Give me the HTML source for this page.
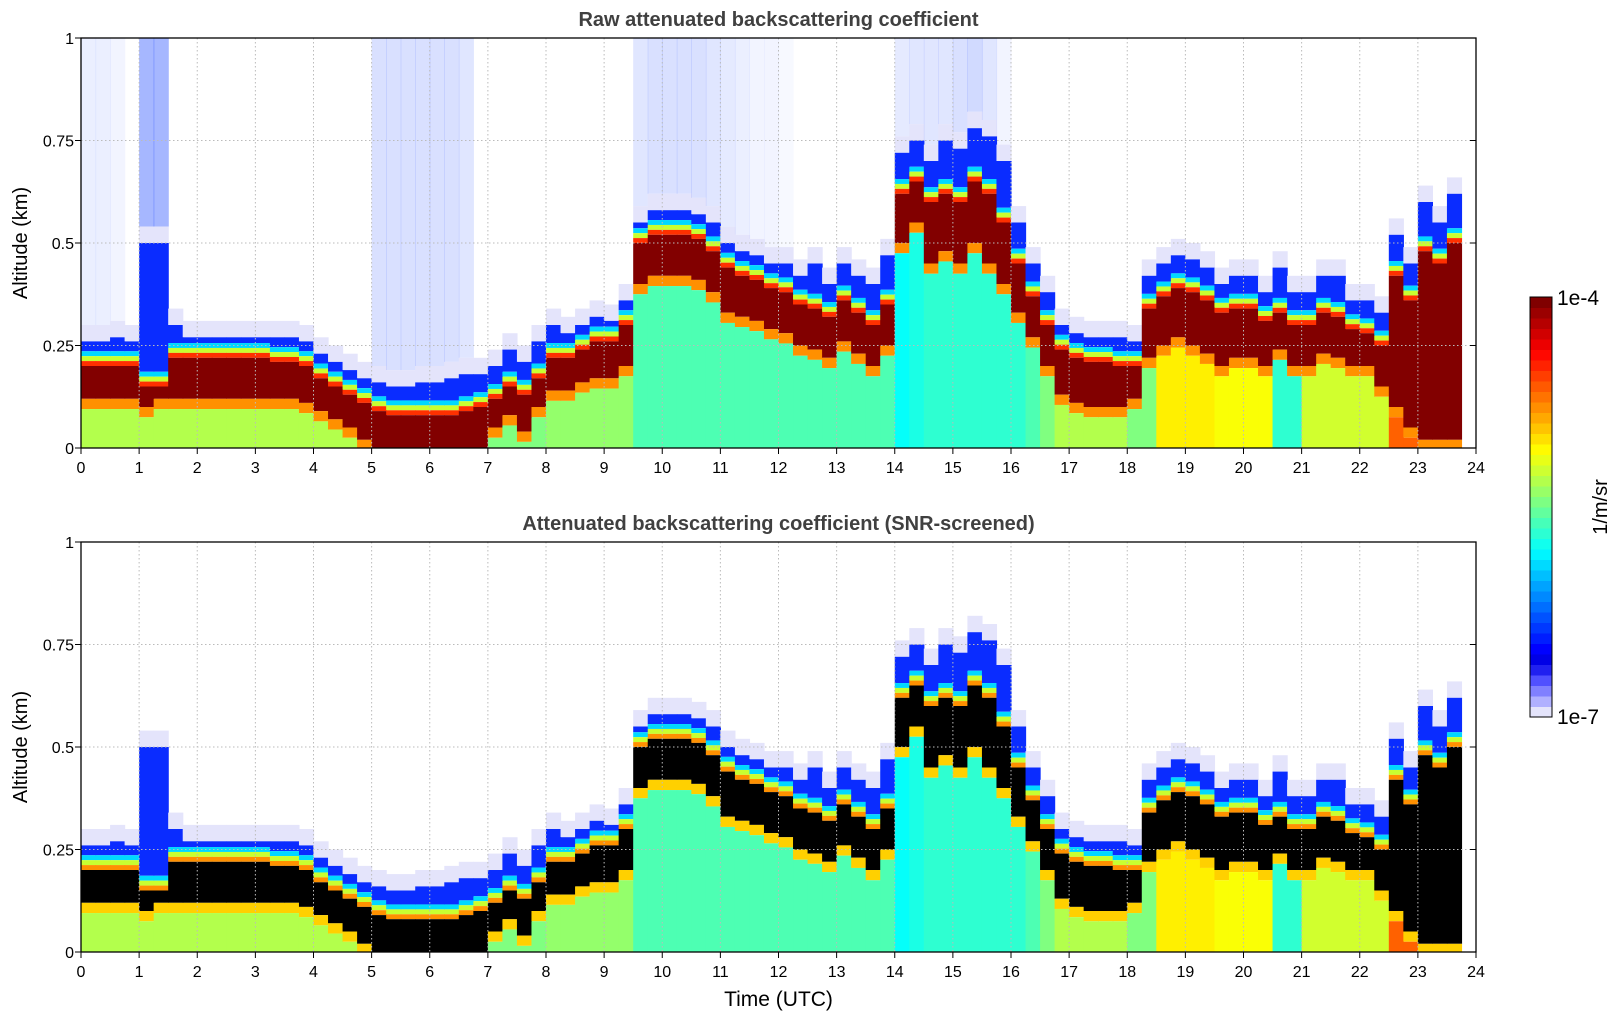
<!DOCTYPE html>
<html><head><meta charset="utf-8"><style>
html,body{margin:0;padding:0;background:#fff;}
svg{display:block;font-family:"Liberation Sans","DejaVu Sans",sans-serif;}
</style></head><body>
<svg id="chart" width="1621" height="1020" viewBox="0 0 1621 1020" xmlns="http://www.w3.org/2000/svg"></svg>
<script>
// column start times (hours), 0.25 h resolution
const times = [];
for (let i = 0; i < 96; i++) times.push(i * 0.25);
// top of aerosol layer (km)
const layerTop = [.26,.26,.27,.26, .50,.50,.30,.27, .27,.27,.27,.27, .27,.27,.27,.26, .23,.21,.19,.17, .16,.15,.15,.16, .16,.17,.18,.18, .20,.24,.21,.26, .30,.28,.30,.32, .31,.36,.55,.58, .58,.58,.57,.55, .50,.48,.47,.45, .45,.42,.45,.40, .45,.42,.40,.47, .72,.75,.70,.75, .73,.78,.76,.70, .55,.45,.38,.30, .28,.27,.27,.27, .26,.42,.45,.47, .46,.44,.40,.42, .42,.38,.44,.38, .38,.42,.42,.36, .36,.33,.52,.45, .60,.55,.62,0];
// top of strong (saturated) band (km)
const bandTop = [.20,.20,.20,.20, .15,.15,.22,.22, .22,.22,.22,.22, .22,.21,.21,.20, .17,.15,.13,.11, .09,.08,.08,.08, .08,.08,.09,.10, .12,.15,.13,.17, .22,.22,.24,.26, .26,.30,.50,.52, .52,.52,.51,.48, .44,.42,.41,.39, .38,.35,.34,.32, .36,.33,.30,.35, .62,.65,.60,.62, .60,.65,.62,.55, .45,.37,.30,.24, .22,.21,.21,.20, .20,.34,.37,.39, .38,.36,.33,.34, .34,.31,.33,.30, .30,.33,.32,.29, .28,.25,.42,.36, .48,.45,.50,0];
// bottom of strong band (km)
const bandBot = [.12,.12,.12,.12, .10,.12,.12,.12, .12,.12,.12,.12, .12,.12,.12,.11, .09,.07,.05,.02, 0,0,0,0, 0,0,0,0, .05,.08,.04,.10, .14,.14,.16,.17, .17,.20,.40,.42, .42,.42,.41,.38, .33,.32,.31,.29, .28,.25,.24,.22, .26,.23,.20,.25, .50,.55,.45,.48, .45,.50,.45,.40, .33,.27,.20,.13, .11,.10,.10,.10, .12,.22,.25,.27, .25,.23,.20,.22, .22,.20,.24,.20, .20,.23,.22,.20, .20,.15,.10,.05, .02,.02,.02,0];
// colour level (0..1 of colorbar) of the region below the band
const lowerVal = [.55,.55,.55,.55, .55,.55,.55,.55, .55,.55,.55,.55, .55,.55,.55,.55, .55,.55,.55,.55, .5,.5,.5,.5, .5,.5,.5,.5, .5,.5,.5,.5, .52,.52,.52,.52, .52,.52,.45,.45, .45,.45,.45,.45, .45,.45,.45,.45, .45,.45,.45,.45, .45,.45,.45,.45, .38,.40,.42,.42, .42,.42,.42,.42, .42,.45,.5,.55, .55,.55,.55,.55, .5,.5,.64,.64, .64,.64,.62,.62, .62,.62,.42,.42, .58,.58,.58,.58, .58,.58,.78,.78, .8,.8,.8,.8];
// density of noise speckle above layer (raw panel)
const noise = [.08,.08,.05,0, .35,.35,0,0, 0,0,0,0, 0,0,0,0, 0,0,0,0, .15,.15,.15,.15, .15,.15,.12,0, 0,0,0,0, 0,0,0,0, 0,0,.12,.15, .15,.15,.15,.12, .1,.08,.05,.05, .03,0,0,0, 0,0,0,0, .1,.12,.12,.12, .15,.18,.12,.05, 0,0,0,0, 0,0,0,0, 0,0,0,0, 0,0,0,0, 0,0,0,0, 0,0,0,0, 0,0,0,0, 0,0,0,0];
const xTicks = [0,1,2,3,4,5,6,7,8,9,10,11,12,13,14,15,16,17,18,19,20,21,22,23,24];
const yTicks = [0,0.25,0.5,0.75,1];
const yTickLabels = ["0","0.25","0.5","0.75","1"];

const NS = "http://www.w3.org/2000/svg";
const svg = document.getElementById('chart');
const X0 = 81, X1 = 1476, PH = 410;
function jet(v){
  v = Math.max(0, Math.min(1, v));
  const r = Math.max(0, Math.min(1, 1.5 - Math.abs(4*v - 3)));
  const g = Math.max(0, Math.min(1, 1.5 - Math.abs(4*v - 2)));
  const b = Math.max(0, Math.min(1, 1.5 - Math.abs(4*v - 1)));
  return `rgb(${Math.round(r*255)},${Math.round(g*255)},${Math.round(b*255)})`;
}
function el(tag, attrs, parent){
  const e = document.createElementNS(NS, tag);
  for (const k in attrs) e.setAttribute(k, attrs[k]);
  (parent || svg).appendChild(e);
  return e;
}
function xs(t){ return X0 + t * (X1 - X0) / 24; }

function panel(yBottom, title, screened, name){
  const g = el('g', {});
  
  
  const ys = v => yBottom - v * PH;
  const w = (X1 - X0) / 96 + 0.6;
  const rect = (t, a, b, fill, op) => {
    if (b <= a) return;
    const r = el('rect', {x: xs(t), y: ys(Math.min(b,1)), width: w, height: ys(a) - ys(Math.min(b,1)), fill: fill}, g);
    if (op !== undefined) r.setAttribute('fill-opacity', op);
    
    
  };
  for (let i = 0; i < times.length; i++){
    const t = times[i], top = layerTop[i], bt = bandTop[i], bb = bandBot[i];
    if (top <= 0) continue;
    if (!screened && noise[i] > 0) rect(t, top + 0.04, 1, '#0030ff', noise[i]);
    rect(t, top, top + 0.04, '#e4e4fb');
    rect(t, bt + 0.036, top, '#0a2cff');
    rect(t, bt + 0.024, Math.min(bt + 0.036, top), '#00d8ff');
    rect(t, bt + 0.012, Math.min(bt + 0.024, top), '#c8ff30');
    rect(t, bt, Math.min(bt + 0.012, top), screened ? '#ff9000' : '#ff3000');
    rect(t, bb, bt, screened ? '#000000' : '#820000');
    if (bb > 0){
      rect(t, Math.max(0, bb - 0.025), bb, screened ? '#ffd000' : '#ff9000');
      rect(t, 0, Math.max(0, bb - 0.025), jet(lowerVal[i]));
    }
  }
  // grid
  xTicks.forEach(t => {
    if (t > 0 && t < 24){
      const l = el('line', {x1: xs(t), x2: xs(t), y1: yBottom - PH, y2: yBottom, stroke: '#bbb', 'stroke-dasharray': '1.5,2.5', 'stroke-width': 1}, g);
      
      
    }
    const tk = el('line', {x1: xs(t), x2: xs(t), y1: yBottom, y2: yBottom + 6, stroke: '#000', 'stroke-width': 1}, g);
    
    
    const tx = el('text', {x: xs(t), y: yBottom + 25, 'text-anchor': 'middle', 'font-size': 16, fill: '#000'}, g);
    tx.textContent = t;
    
    
  });
  yTicks.forEach((v, k) => {
    if (v > 0 && v < 1){
      const l = el('line', {x1: X0, x2: X1, y1: ys(v), y2: ys(v), stroke: '#bbb', 'stroke-dasharray': '1.5,2.5', 'stroke-width': 1}, g);
      
      
    }
    const tk = el('line', {x1: X0 - 6, x2: X0, y1: ys(v), y2: ys(v), stroke: '#000'}, g);
    
    
    const tr = el('line', {x1: X1 - 6, x2: X1, y1: ys(v), y2: ys(v), stroke: '#000'}, g);
    
    
    const tx = el('text', {x: X0 - 7, y: ys(v) + 6, 'text-anchor': 'end', 'font-size': 16, fill: '#000'}, g);
    tx.textContent = yTickLabels[k];
    
    
  });
  const fr = el('rect', {x: X0, y: yBottom - PH, width: X1 - X0, height: PH, fill: 'none', stroke: '#000', 'stroke-width': 1.3}, g);
  
  
  const ti = el('text', {x: (X0 + X1) / 2, y: yBottom - PH - 12, 'text-anchor': 'middle', 'font-size': 20, 'font-weight': 'bold', fill: '#404040'}, g);
  ti.textContent = title;
  
  
  const yl = el('text', {x: 0, y: 0, 'text-anchor': 'middle', 'font-size': 20, fill: '#000', transform: `translate(27,${yBottom - PH/2}) rotate(-90)`}, g);
  yl.textContent = 'Altitude (km)';
  
  
}
panel(448, 'Raw attenuated backscattering coefficient', false, 'raw-panel');
panel(952, 'Attenuated backscattering coefficient (SNR-screened)', true, 'screened-panel');
const xl = el('text', {x: (X0 + X1) / 2, y: 1006, 'text-anchor': 'middle', 'font-size': 21, fill: '#000'});
xl.textContent = 'Time (UTC)';



// colorbar
const CB = {x: 1530, y: 297, w: 22, h: 420, n: 40};
const cg = el('g', {});


for (let k = 0; k < CB.n; k++){
  let fill;
  if (k < 5){ fill = ['#e4e4fb','#b0b0ff','#8080ff','#5050ff','#2020f0'][k]; }
  else fill = jet(0.1 + (k - 5) / (CB.n - 6) * 0.9);
  const r = el('rect', {x: CB.x, y: CB.y + CB.h - (k + 1) * CB.h / CB.n, width: CB.w, height: CB.h / CB.n + 0.5, fill: fill}, cg);
  
  
}
el('rect', {x: CB.x, y: CB.y, width: CB.w, height: CB.h, fill: 'none', stroke: '#000', 'stroke-width': 1}, cg);
const c1 = el('text', {x: 1557, y: 305, 'font-size': 21, fill: '#000'}, cg);
c1.textContent = '1e-4';


const c2 = el('text', {x: 1557, y: 724, 'font-size': 21, fill: '#000'}, cg);
c2.textContent = '1e-7';


const cu = el('text', {x: 0, y: 0, 'text-anchor': 'middle', 'font-size': 20, fill: '#000', transform: 'translate(1607,507) rotate(-90)'}, cg);
cu.textContent = '1/m/sr';


</script>
</body></html>
